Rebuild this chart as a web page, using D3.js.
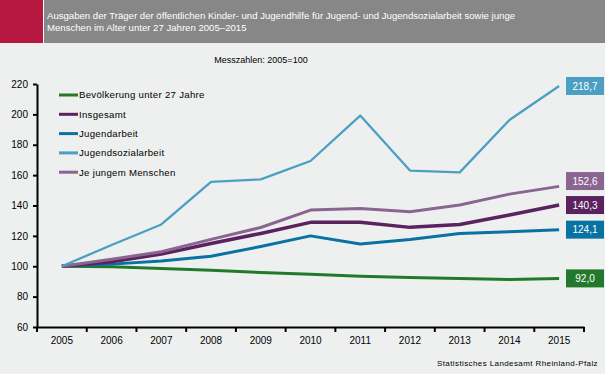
<!DOCTYPE html>
<html>
<head>
<meta charset="utf-8">
<script src="https://cdn.jsdelivr.net/npm/d3@7"></script>
<style>
  html, body { margin: 0; padding: 0; background: #eef0ef; }
  svg { display: block; font-family: "Liberation Sans", Arial, sans-serif; }
</style>
</head>
<body>
<div id="chart"></div>
<script>
(function(d3) {
'use strict';

var years = ['2005', '2006', '2007', '2008', '2009', '2010', '2011', '2012', '2013', '2014', '2015'];
var bevoelkerung = [100, 99.6, 98.5, 97.4, 95.9, 94.8, 93.4, 92.6, 91.9, 91.3, 92.0];
var insgesamt = [100, 103, 108, 115, 121.6, 128.9, 128.9, 125.6, 127.5, 133.7, 140.3];
var jugendarbeit = [100, 101.4, 103.5, 106.6, 113, 120, 114.6, 117.6, 121.6, 122.7, 124.1];
var jugendsozialarbeit = [100, 114, 127.5, 155.6, 157.2, 169.3, 199.2, 163, 161.8, 196.3, 218.7];
var jeJungem = [100, 104.6, 109.5, 117.7, 125.5, 137, 138.1, 135.9, 140.3, 147.5, 152.6];
var yTicks = [60, 80, 100, 120, 140, 160, 180, 200, 220];

var series = [
  { label: 'Bevölkerung unter 27 Jahre', values: bevoelkerung, color: '#23792b', width: 3 },
  { label: 'Insgesamt', values: insgesamt, color: '#5b2260', width: 3.5 },
  { label: 'Jugendarbeit', values: jugendarbeit, color: '#0872a3', width: 3 },
  { label: 'Jugendsozialarbeit', values: jugendsozialarbeit, color: '#4a9fc3', width: 2.3 },
  { label: 'Je jungem Menschen', values: jeJungem, color: '#8a6592', width: 3 }
];
var drawOrder = [0, 2, 1, 4, 3];

var width = 605, height = 374;
var de = d3.formatLocale({ decimal: ',', thousands: '.', grouping: [3], currency: ['', ' €'] });
var fmt = de.format('.1f');

var svg = d3.select('#chart').append('svg')
  .attr('width', width)
  .attr('height', height);

svg.append('rect').attr('width', width).attr('height', height).attr('fill', '#eef0ef');

// header
svg.append('rect').attr('x', 0).attr('y', 0).attr('width', width).attr('height', 43).attr('fill', '#878787');
svg.append('rect').attr('x', 0).attr('y', 0).attr('width', 43).attr('height', 43).attr('fill', '#b5173f');
svg.append('rect').attr('x', 43).attr('y', 0).attr('width', 1).attr('height', 43).attr('fill', '#ffffff');

var title = svg.append('text')
  .attr('fill', '#ffffff')
  .style('font-size', '9.6px');
title.append('tspan').attr('x', 47).attr('y', 19)
  .text('Ausgaben der Träger der öffentlichen Kinder- und Jugendhilfe für Jugend- und Jugendsozialarbeit sowie junge');
title.append('tspan').attr('x', 47).attr('y', 31)
  .text('Menschen im Alter unter 27 Jahren 2005–2015');

svg.append('text')
  .attr('x', 261).attr('y', 63)
  .attr('text-anchor', 'middle')
  .style('font-size', '9px')
  .text('Messzahlen: 2005=100');

var x = d3.scaleBand().domain(years).range([37, 584]).padding(0);
var y = d3.scaleLinear().domain([60, 220]).range([327, 84]);
var cx = function(i) { return x(years[i]) + x.bandwidth() / 2; };

// y axis
var yAxis = svg.append('g').attr('transform', 'translate(37,0)')
  .call(d3.axisLeft(y).tickValues(yTicks).tickSize(4).tickPadding(5).tickSizeOuter(0));
yAxis.select('.domain').attr('stroke', '#000').attr('stroke-width', 2);
yAxis.selectAll('.tick line').attr('stroke', '#000').attr('stroke-width', 2);
yAxis.selectAll('text').style('font-size', '10px').attr('fill', '#000').attr('font-family', null);

// x axis
var xAxis = svg.append('g').attr('transform', 'translate(0,327)')
  .call(d3.axisBottom(x).tickSize(0).tickPadding(10).tickSizeOuter(0));
xAxis.select('.domain').attr('stroke', '#000').attr('stroke-width', 2);
xAxis.selectAll('text').style('font-size', '10px').attr('fill', '#000').attr('font-family', null);
var bounds = years.map(function(d) { return x(d); }).concat([x.range()[1]]);
xAxis.selectAll('.bound').data(bounds).enter().append('line')
  .attr('x1', function(d) { return d; }).attr('x2', function(d) { return d; })
  .attr('y1', 0).attr('y2', 5)
  .attr('stroke', '#000').attr('stroke-width', 2);

// lines
var line = d3.line()
  .x(function(d, i) { return cx(i); })
  .y(function(d) { return y(d); });

drawOrder.forEach(function(k) {
  var s = series[k];
  svg.append('path')
    .attr('d', line(s.values))
    .attr('fill', 'none')
    .attr('stroke', s.color)
    .attr('stroke-width', s.width)
    .attr('stroke-linejoin', 'round');
});

// legend
var legend = svg.selectAll('.legend').data(series).enter().append('g')
  .attr('transform', function(d, i) { return 'translate(59,' + (95 + i * 19.3) + ')'; });
legend.append('line')
  .attr('x1', 0).attr('x2', 19).attr('y1', 0).attr('y2', 0)
  .attr('stroke', function(d) { return d.color; })
  .attr('stroke-width', 3);
legend.append('text')
  .attr('x', 20).attr('y', 0).attr('dy', '0.35em')
  .style('font-size', '9.6px')
  .style('letter-spacing', '0.3px')
  .text(function(d) { return d.label; });

// end value boxes, shifted apart where they would overlap
var ends = series.map(function(s) {
  var v = s.values[s.values.length - 1];
  return { v: v, color: s.color, pos: y(v) };
}).sort(function(a, b) { return b.pos - a.pos; });
for (var i = 1; i < ends.length; i++) {
  if (ends[i - 1].pos - ends[i].pos < 24) ends[i].pos = ends[i - 1].pos - 24;
}

var boxes = svg.selectAll('.endbox').data(ends).enter().append('g')
  .attr('transform', function(d) { return 'translate(566,' + (d.pos - 9) + ')'; });
boxes.append('rect')
  .attr('width', 38).attr('height', 18)
  .attr('fill', function(d) { return d.color; });
boxes.append('text')
  .attr('x', 19).attr('y', 9).attr('dy', '0.36em')
  .attr('text-anchor', 'middle')
  .attr('fill', '#fff')
  .style('font-size', '10px')
  .text(function(d) { return fmt(d.v); });

// source
svg.append('text')
  .attr('x', 598).attr('y', 366)
  .attr('text-anchor', 'end')
  .style('font-size', '8px')
  .style('letter-spacing', '0.4px')
  .text('Statistisches Landesamt Rheinland-Pfalz');

})(window.d3);
</script>
</body>
</html>
